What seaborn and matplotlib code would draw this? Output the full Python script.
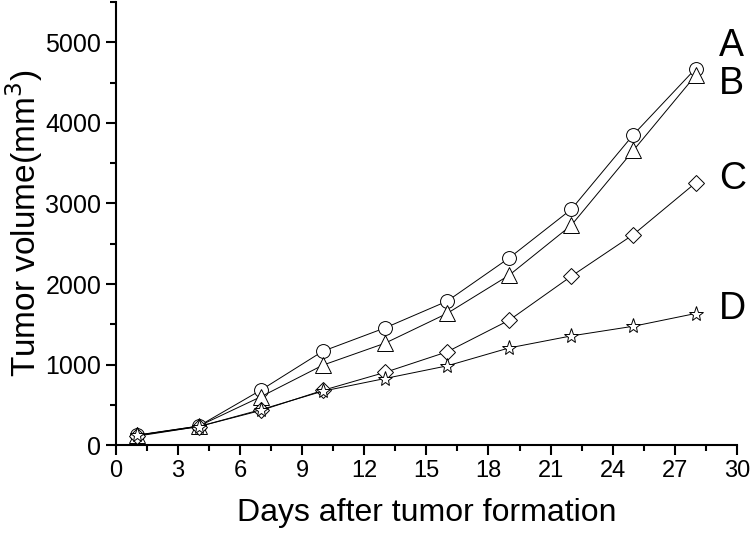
import numpy as np
import pandas as pd
import seaborn as sns
import matplotlib.pyplot as plt
from matplotlib.ticker import MultipleLocator

days = [1, 4, 7, 10, 13, 16, 19, 22, 25, 28]
vol_A = [124, 236, 682, 1166, 1455, 1787, 2324, 2928, 3855, 4674]
vol_B = [120, 236, 600, 993, 1265, 1635, 2110, 2730, 3660, 4590]
vol_C = [110, 230, 430, 680, 903, 1158, 1551, 2097, 2615, 3255]
vol_D = [120, 230, 440, 670, 827, 984, 1207, 1356, 1476, 1634]
groups = ["A", "B", "C", "D"]
markers = {"A": "o", "B": "^", "C": "D", "D": "*"}
msizes = {"A": 10, "B": 11, "C": 8, "D": 11}
# height of the letters at the right (data units)
label_pos = {"A": 4950, "B": 4480, "C": 3300, "D": 1690}

df = pd.DataFrame({"day": days * 4,
                   "volume": vol_A + vol_B + vol_C + vol_D,
                   "group": [g for g in groups for _ in days]})

sns.set_style("ticks")
plt.rcParams['font.family'] = ['Liberation Sans', 'DejaVu Sans']

fig = plt.figure(figsize=(7.52, 5.35), dpi=100)
ax = fig.add_axes([0.154, 0.168, 0.826, 0.828])

for g in groups:
    sub = df[df.group == g]
    sns.lineplot(data=sub, x="day", y="volume", ax=ax, color="black",
                 linewidth=0.7, marker=markers[g], markersize=msizes[g],
                 markerfacecolor="white", markeredgecolor="black",
                 markeredgewidth=0.7)
    ax.text(29.15, label_pos[g], g, fontsize=27, ha="left", va="center",
            color="black", clip_on=False)

ax.set_xlim(0, 30)
ax.set_ylim(0, 5500)
ax.xaxis.set_major_locator(MultipleLocator(3))
ax.xaxis.set_minor_locator(MultipleLocator(1.5))
ax.yaxis.set_major_locator(MultipleLocator(1000))
ax.yaxis.set_minor_locator(MultipleLocator(500))
ax.tick_params(which="major", length=7, width=1.5, colors="black")
ax.tick_params(which="minor", length=4, width=1.5, colors="black")
ax.tick_params(axis="y", labelsize=18)
ax.tick_params(axis="x", labelsize=17)
for s in ["left", "bottom"]:
    ax.spines[s].set_linewidth(1.5)
    ax.spines[s].set_color("black")
sns.despine(ax=ax)
ax.set_xlabel("Days after tumor formation", fontsize=23, labelpad=12,
              color="black")
ax.set_ylabel("Tumor volume(mm$^3$)", fontsize=24, color="black")
ax.yaxis.set_label_coords(-0.114, 0.5)

fig.savefig("out.png", dpi=100)
